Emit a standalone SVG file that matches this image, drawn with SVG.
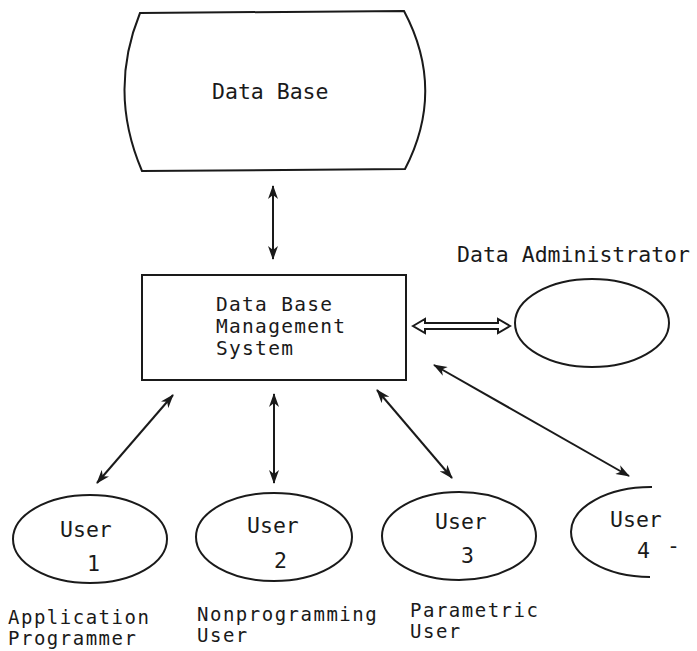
<svg xmlns="http://www.w3.org/2000/svg" width="697" height="651" viewBox="0 0 697 651">
<style>
.s{fill:none;stroke:#1a1a1a;stroke-width:2}
.t{font-family:"DejaVu Sans Mono","Liberation Mono",monospace;font-size:21.5px;fill:#1a1a1a}
.m{font-family:"DejaVu Sans Mono","Liberation Mono",monospace;font-size:19.5px;letter-spacing:1.3px;fill:#1a1a1a}
.b{font-family:"DejaVu Sans Mono","Liberation Mono",monospace;font-size:19px;letter-spacing:1.5px;fill:#1a1a1a}
.c{fill:none;stroke:#1a1a1a;stroke-width:2;marker-start:url(#ah);marker-end:url(#ah)}
</style>
<defs>
<marker id="ah" viewBox="0 0 14 10" refX="13" refY="5" markerWidth="14" markerHeight="10" markerUnits="userSpaceOnUse" orient="auto-start-reverse">
<path d="M0,0 L14,5 L0,10 L4,5 Z" fill="#1a1a1a"/>
</marker>
</defs>
<rect width="697" height="651" fill="#fff"/>
<g id="database">
<path class="s" d="M140,13 L404,11 Q446,90 405,169 L142,171 Q108,92 140,13 Z"/>
<text class="t" x="212" y="99">Data Base</text>
</g>
<g id="dbms">
<rect class="s" x="142" y="275" width="264" height="105"/>
<text class="m" x="216" y="311">Data Base</text>
<text class="m" x="216" y="333">Management</text>
<text class="m" x="216" y="355">System</text>
</g>
<g id="admin">
<text class="t" x="457" y="262">Data Administrator</text>
<ellipse class="s" cx="592" cy="323" rx="77" ry="44"/>
</g>
<g id="user1">
<ellipse class="s" cx="90" cy="539" rx="77" ry="44"/>
<text class="t" x="60" y="537">User</text>
<text class="t" x="87" y="571">1</text>
<text class="b" x="8" y="624">Application</text>
<text class="b" x="8" y="645">Programmer</text>
</g>
<g id="user2">
<ellipse class="s" cx="274" cy="537" rx="78" ry="44"/>
<text class="t" x="247" y="533">User</text>
<text class="t" x="274" y="568">2</text>
<text class="b" x="197" y="621">Nonprogramming</text>
<text class="b" x="197" y="642">User</text>
</g>
<g id="user3">
<ellipse class="s" cx="459" cy="536" rx="77" ry="44"/>
<text class="t" x="435" y="529">User</text>
<text class="t" x="461" y="563">3</text>
<text class="b" x="410" y="617">Parametric</text>
<text class="b" x="410" y="638">User</text>
</g>
<g id="user4">
<path class="s" d="M652,487 A80,45 0 0 0 650,577"/>
<text class="t" x="610" y="527">User</text>
<text class="t" x="637" y="558">4</text>
<text class="t" x="667" y="553">-</text>
</g>
<g id="connectors">
<line class="c" x1="273" y1="186" x2="273" y2="259"/>
<polygon class="s" stroke-width="1.6" points="413,326 425,319 425,323 498,323 498,319 510,326 498,333 498,329 425,329 425,333"/>
<line class="c" x1="173" y1="395" x2="97" y2="483"/>
<line class="c" x1="274" y1="394" x2="274" y2="483"/>
<line class="c" x1="377" y1="390" x2="452" y2="478"/>
<line class="c" x1="434" y1="365" x2="629" y2="476"/>
</g>
</svg>
